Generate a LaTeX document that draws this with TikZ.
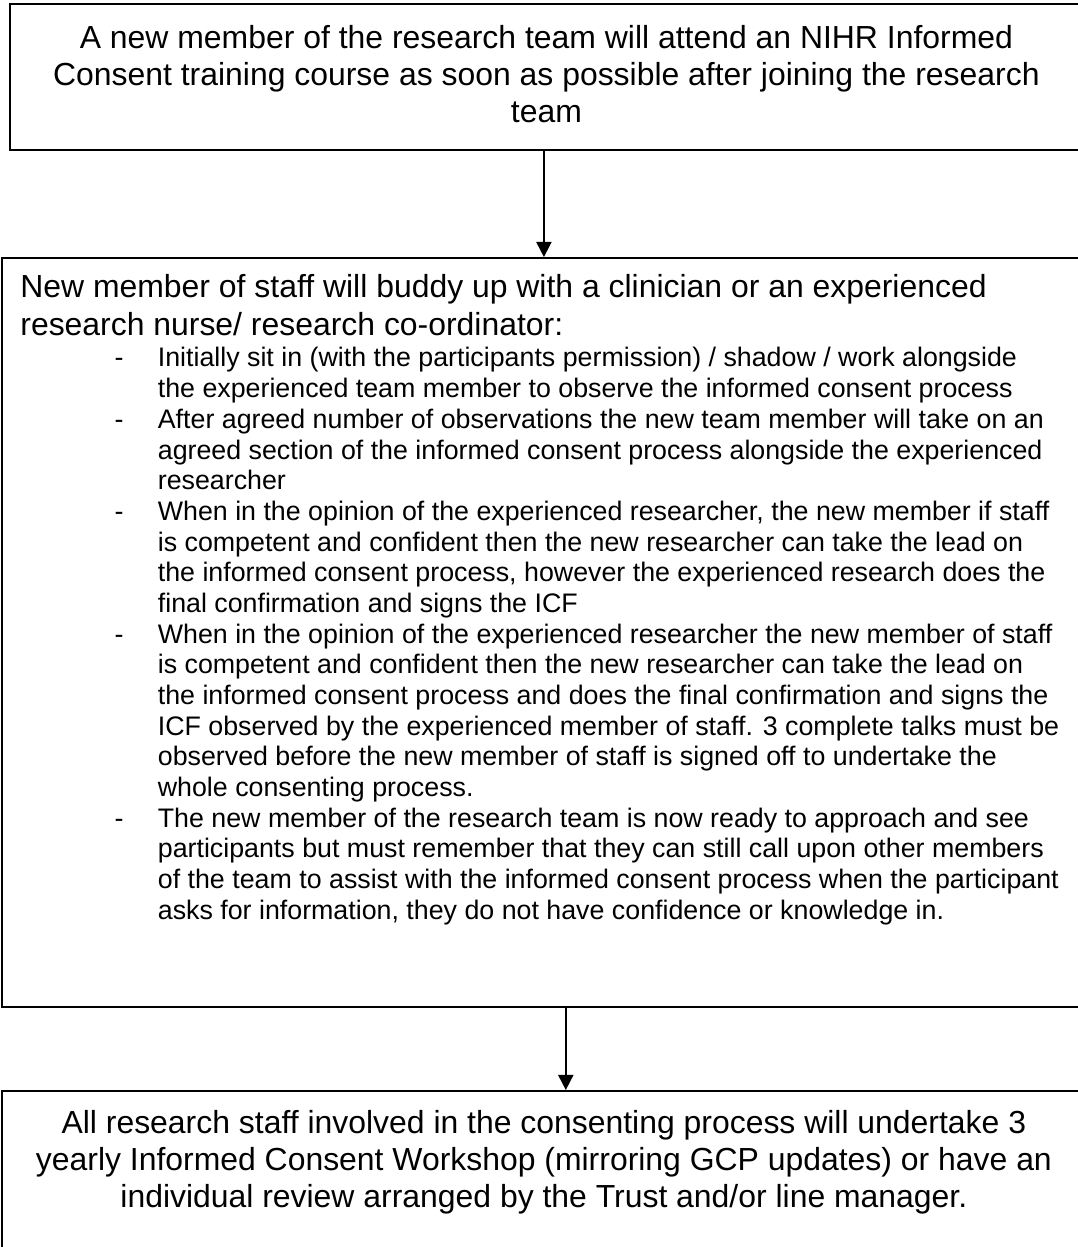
\documentclass[tikz,border=0pt]{standalone}
\usepackage{fontspec}
\setmainfont{Liberation Sans}
\usepackage{tikz}
\usetikzlibrary{positioning}
\usetikzlibrary {arrows.meta}
\newcommand{\pxu}{0.4386pt}
\newcommand{\dashitem}{\makebox[19pt][l]{-}}
\newcommand{\hangin}{\makebox[19pt][l]{}}
\tikzset{stagebox/.style={rectangle,draw=black,fill=none,line width=0.8pt,
inner sep=0pt,anchor=north west}}
\tikzset{stagetext/.style={rectangle,draw=none,inner sep=0pt,align=center,
font=\fontsize{14}{16.3}\selectfont}}
\tikzset{stagehead/.style={rectangle,draw=none,inner sep=0pt,align=left,
font=\fontsize{14}{16.6}\selectfont}}
\tikzset{stagelist/.style={rectangle,draw=none,inner sep=0pt,align=left,
font=\fontsize{11.75}{13.46}\selectfont}}
\tikzset{flowarrow/.style={line width=0.8pt,-{Triangle[length=6.6pt,width=6.6pt]}}}

\begin{document}
\begin{tikzpicture}[x=\pxu,y=-\pxu]

        \useasboundingbox (0,0) rectangle (1077,1247);

        \node[stagebox,minimum width={1073*\pxu},minimum height={146*\pxu}] (topbox) at (9,3) {};
        \node[stagebox,minimum width={1084*\pxu},minimum height={749*\pxu}] (midbox) at (1,257) {};
        \node[stagebox,minimum width={1084*\pxu},minimum height={200*\pxu}] (lowbox) at (1,1090) {};

        \node[stagetext] (toptext) [below=9.4pt of topbox.north]
            {A new member of the research team will attend an NIHR Informed\\
             Consent training course as soon as possible after joining the research\\
             team};

        \node[stagehead] (midhead) [below right=7.5pt and 8.3pt of midbox.north west]
            {New member of staff will buddy up with a clinician or an experienced\\
             research nurse/ research co-ordinator:};

        \node[stagelist] (midlist) [below right=39.5pt and 49.6pt of midbox.north west]
            {\dashitem Initially sit in (with the participants permission) / shadow / work alongside\\
             \hangin the experienced team member to observe the informed consent process\\
             \dashitem After agreed number of observations the new team member will take on an\\
             \hangin agreed section of the informed consent process alongside the experienced\\
             \hangin researcher\\
             \dashitem When in the opinion of the experienced researcher, the new member if staff\\
             \hangin is competent and confident then the new researcher can take the lead on\\
             \hangin the informed consent process, however the experienced research does the\\
             \hangin final confirmation and signs the ICF\\
             \dashitem When in the opinion of the experienced researcher the new member of staff\\
             \hangin is competent and confident then the new researcher can take the lead on\\
             \hangin the informed consent process and does the final confirmation and signs the\\
             \hangin ICF observed by the experienced member of staff. 3 complete talks must be\\
             \hangin observed before the new member of staff is signed off to undertake the\\
             \hangin whole consenting process.\\
             \dashitem The new member of the research team is now ready to approach and see\\
             \hangin participants but must remember that they can still call upon other members\\
             \hangin of the team to assist with the informed consent process when the participant\\
             \hangin asks for information, they do not have confidence or knowledge in.};

        \node[stagetext] (lowtext) [below=8.8pt of lowbox.north]
            {All research staff involved in the consenting process will undertake 3\\
             yearly Informed Consent Workshop (mirroring GCP updates) or have an\\
             individual review arranged by the Trust and/or line manager.};

        \draw [flowarrow] (topbox.south -| midbox.north) -- (midbox.north);
        \draw [flowarrow] ([xshift=9.6pt]midbox.south) -- ([xshift=9.6pt]midbox.south |- lowbox.north);

    \end{tikzpicture}
\end{document}
